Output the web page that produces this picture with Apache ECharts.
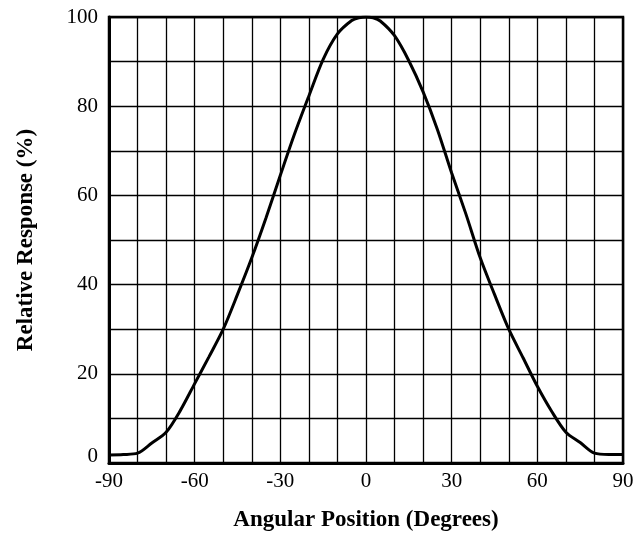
<!DOCTYPE html>
<html>
<head>
<meta charset="utf-8">
<script src="https://cdn.jsdelivr.net/npm/echarts@6/dist/echarts.min.js"></script>
<style>
html,body{margin:0;padding:0;background:#fff;}
#chart{width:644px;height:533px;}
</style>
</head>
<body>
<div id="chart"></div>
<script>
// Angular position (degrees)
const angles = [-90,-85,-80,-75,-70,-65,-60,-55,-50,-45,-40,-35,-30,-25,-20,-15,-10,-5,-2.5,0,2.5,5,10,15,20,25,30,35,40,45,50,55,60,65,70,75,80,85,90];
// Relative response (%)
const response = [1.8,1.9,2.2,4.5,6.9,11.8,17.8,23.8,30,37.8,46,55,64.5,73.8,82.3,90.5,96.2,99.2,99.8,100,99.8,99.1,95.8,90.2,83.2,74.8,65,55.8,46,37.8,30,23.6,17.2,11.6,6.9,4.6,2.2,1.9,1.9];
const xTickLabels = [-90,-60,-30,0,30,60,90];
const yTickLabels = [0,20,40,60,80,100];

const chart = echarts.init(document.getElementById('chart'), null, {renderer:'canvas'});
const font = '"Liberation Serif","Times New Roman",serif';
chart.setOption({
  animation:false,
  backgroundColor:'#fff',
  grid:{left:109,right:21,top:17,bottom:70,show:true,borderColor:'#000',borderWidth:2.5,
        backgroundColor:'transparent',containLabel:false,outerBoundsMode:'none'},
  xAxis:{
    type:'value',min:-90,max:90,interval:10,
    name:'Angular Position (Degrees)',nameLocation:'middle',nameGap:46,
    nameTextStyle:{fontFamily:font,fontWeight:'bold',fontSize:23,color:'#000'},
    axisLine:{onZero:false,lineStyle:{color:'#000',width:3}},
    axisTick:{show:false},
    axisLabel:{fontFamily:font,fontSize:21,color:'#000',margin:8,
      formatter:v=>xTickLabels.includes(v)?String(v):''},
    splitLine:{lineStyle:{color:'#000',width:1.3}}
  },
  yAxis:{
    type:'value',min:0,max:100,interval:10,
    name:'Relative Response (%)',nameLocation:'middle',nameGap:71,
    nameTextStyle:{fontFamily:font,fontWeight:'bold',fontSize:23,color:'#000'},
    axisLine:{show:true,onZero:false,lineStyle:{color:'#000',width:3}},
    axisTick:{show:false},
    axisLabel:{fontFamily:font,fontSize:21,color:'#000',margin:11,
      formatter:v=>yTickLabels.includes(v)?(v===0?'{z|0}':String(v)):'',
      rich:{z:{fontFamily:font,fontSize:21,color:'#000',padding:[0,0,14,0]}}},
    splitLine:{lineStyle:{color:'#000',width:1.3}}
  },
  series:[{
    type:'line',
    data:angles.map((a,i)=>[a,response[i]]),
    smooth:0.3,
    symbol:'none',
    lineStyle:{color:'#000',width:3},
    z:5
  }]
});
</script>
</body>
</html>
